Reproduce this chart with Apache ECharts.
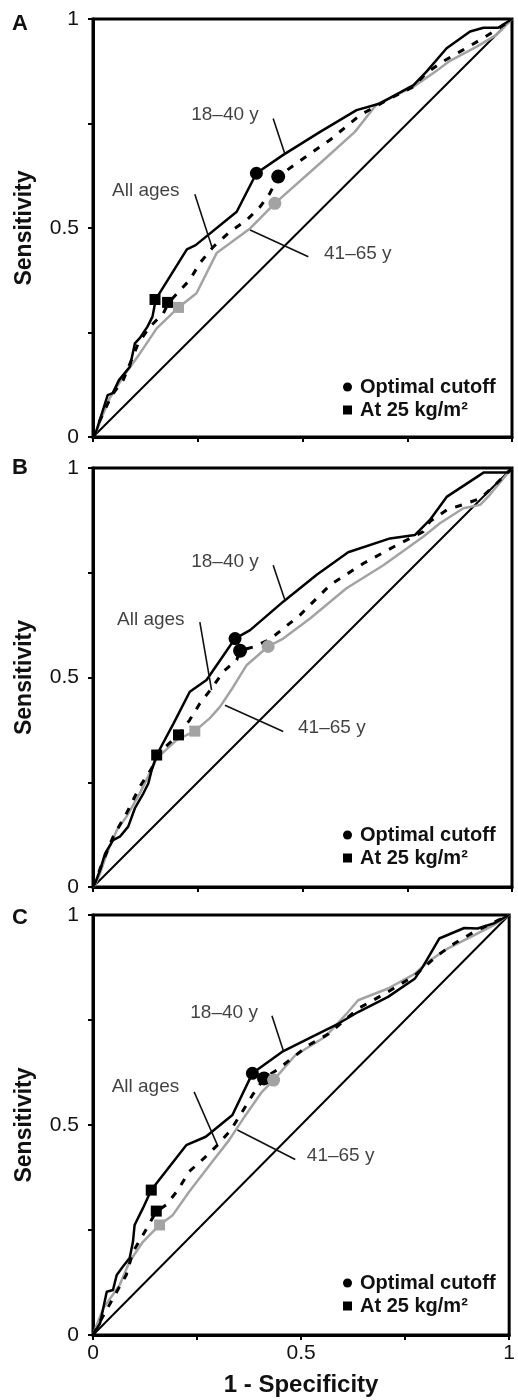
<!DOCTYPE html>
<html>
<head>
<meta charset="utf-8">
<script src="https://cdn.jsdelivr.net/npm/echarts@6/dist/echarts.min.js"></script>
<style>
html,body{margin:0;padding:0;background:#fff;}
#chart{width:518px;height:1400px;}
</style>
</head>
<body>
<div id="chart"></div>
<script>
// ---------- data (1 - specificity, sensitivity) ----------
const panelLetters = ['A', 'B', 'C'];
const tickValues = [0, 0.5, 1];
const annotationTexts = ['18–40 y', 'All ages', '41–65 y'];
const legendNames = ['Optimal cutoff', 'At 25 kg/m²'];

const young_A = [[0,0],[0.005,0.005],[0.035,0.10],[0.047,0.105],[0.062,0.136],[0.088,0.168],[0.10,0.224],[0.112,0.237],[0.130,0.264],[0.142,0.288],[0.150,0.330],[0.224,0.449],[0.245,0.459],[0.343,0.539],[0.39,0.631],[0.454,0.675],[0.542,0.730],[0.629,0.782],[0.685,0.798],[0.765,0.842],[0.796,0.874],[0.844,0.930],[0.90,0.970],[0.932,0.979],[0.967,0.979],[1,1]];
const old_A = [[0,0],[0.005,0.005],[0.025,0.057],[0.04,0.093],[0.072,0.144],[0.112,0.20],[0.152,0.26],[0.204,0.310],[0.247,0.344],[0.295,0.44],[0.375,0.499],[0.434,0.559],[0.542,0.655],[0.625,0.730],[0.677,0.796],[0.765,0.838],[0.82,0.876],[0.852,0.900],[0.916,0.934],[0.963,0.962],[1,1]];
const all_A = [[0,0],[0.017,0.041],[0.045,0.10],[0.072,0.136],[0.108,0.224],[0.136,0.264],[0.168,0.296],[0.18,0.321],[0.231,0.376],[0.255,0.416],[0.287,0.455],[0.327,0.491],[0.367,0.519],[0.399,0.551],[0.422,0.583],[0.442,0.623],[0.486,0.655],[0.566,0.711],[0.637,0.770],[0.709,0.81],[0.765,0.838],[0.796,0.871],[0.836,0.899],[0.876,0.922],[0.924,0.95],[0.963,0.974],[1,1]];
const optimal_A = [[0.39,0.631],[0.442,0.623],[0.434,0.559]];   // 18–40, all ages, 41–65
const bmi25_A = [[0.148,0.329],[0.178,0.322],[0.204,0.310]];

const young_B = [[0,0],[0.005,0.009],[0.017,0.041],[0.029,0.08],[0.048,0.112],[0.064,0.12],[0.084,0.144],[0.10,0.188],[0.12,0.223],[0.132,0.247],[0.14,0.279],[0.152,0.315],[0.192,0.39],[0.231,0.466],[0.271,0.494],[0.339,0.593],[0.375,0.613],[0.454,0.681],[0.534,0.745],[0.609,0.799],[0.709,0.832],[0.768,0.840],[0.804,0.876],[0.844,0.931],[0.932,0.989],[0.991,0.989],[1,1]];
const old_B = [[0,0],[0.005,0.005],[0.017,0.033],[0.033,0.08],[0.057,0.136],[0.08,0.168],[0.112,0.224],[0.143,0.287],[0.152,0.307],[0.2,0.351],[0.243,0.372],[0.279,0.403],[0.303,0.430],[0.335,0.478],[0.367,0.53],[0.418,0.574],[0.454,0.593],[0.518,0.641],[0.605,0.713],[0.693,0.768],[0.788,0.836],[0.828,0.868],[0.884,0.904],[0.924,0.912],[0.947,0.936],[1,1]];
const all_B = [[0,0],[0.025,0.064],[0.048,0.12],[0.08,0.176],[0.112,0.24],[0.14,0.283],[0.152,0.315],[0.204,0.363],[0.231,0.399],[0.255,0.438],[0.283,0.474],[0.311,0.514],[0.343,0.542],[0.351,0.564],[0.383,0.573],[0.422,0.591],[0.494,0.649],[0.566,0.721],[0.645,0.772],[0.725,0.816],[0.788,0.848],[0.804,0.872],[0.844,0.90],[0.884,0.913],[0.924,0.927],[0.963,0.963],[1,1]];
const optimal_B = [[0.339,0.593],[0.351,0.564],[0.418,0.574]];
const bmi25_B = [[0.152,0.315],[0.204,0.363],[0.243,0.372]];

const young_C = [[0,0],[0.005,0.008],[0.017,0.028],[0.033,0.103],[0.048,0.107],[0.057,0.143],[0.072,0.163],[0.088,0.183],[0.096,0.222],[0.10,0.262],[0.12,0.302],[0.14,0.345],[0.224,0.452],[0.271,0.472],[0.335,0.524],[0.383,0.623],[0.454,0.674],[0.526,0.710],[0.589,0.741],[0.637,0.769],[0.709,0.805],[0.773,0.848],[0.792,0.876],[0.832,0.944],[0.892,0.969],[0.924,0.968],[0.963,0.98],[1,1]];
const old_C = [[0,0],[0.009,0.024],[0.025,0.064],[0.064,0.119],[0.088,0.175],[0.12,0.222],[0.16,0.262],[0.192,0.286],[0.231,0.341],[0.287,0.413],[0.327,0.464],[0.367,0.524],[0.406,0.579],[0.434,0.607],[0.486,0.666],[0.558,0.710],[0.613,0.769],[0.637,0.797],[0.709,0.825],[0.773,0.860],[0.804,0.888],[0.852,0.92],[0.916,0.952],[0.963,0.976],[1,1]];
const all_C = [[0,0],[0.017,0.032],[0.057,0.103],[0.08,0.143],[0.096,0.198],[0.12,0.238],[0.152,0.294],[0.176,0.31],[0.204,0.345],[0.231,0.389],[0.267,0.421],[0.299,0.452],[0.331,0.488],[0.359,0.532],[0.383,0.571],[0.411,0.611],[0.446,0.634],[0.518,0.69],[0.566,0.717],[0.637,0.777],[0.709,0.817],[0.773,0.856],[0.796,0.876],[0.828,0.904],[0.868,0.932],[0.916,0.96],[1,1]];
const optimal_C = [[0.383,0.623],[0.411,0.611],[0.434,0.607]];
const bmi25_C = [[0.14,0.345],[0.152,0.295],[0.16,0.262]];

const chanceLine = [[0,0],[1,1]];

// annotation anchors (data coords): text centres, then leader lines [from, to]
const labelPos_A = [[0.315,0.770],[0.126,0.590],[0.632,0.439]];
const leaders_A = [[[0.430,0.762],[0.458,0.677]],[[0.243,0.581],[0.285,0.451]],[[0.375,0.495],[0.514,0.431]]];
const labelPos_B = [[0.315,0.777],[0.138,0.638],[0.570,0.381]];
const leaders_B = [[[0.430,0.768],[0.458,0.685]],[[0.255,0.632],[0.283,0.470]],[[0.315,0.434],[0.454,0.371]]];
const labelPos_C = [[0.315,0.768],[0.126,0.590],[0.595,0.427]];
const leaders_C = [[[0.430,0.760],[0.458,0.675]],[[0.243,0.579],[0.299,0.452]],[[0.347,0.488],[0.486,0.418]]];

// ---------- build ----------
const panels = [
  {young: young_A, old: old_A, all: all_A, opt: optimal_A, bmi: bmi25_A, lab: labelPos_A, lead: leaders_A},
  {young: young_B, old: old_B, all: all_B, opt: optimal_B, bmi: bmi25_B, lab: labelPos_B, lead: leaders_B},
  {young: young_C, old: old_C, all: all_C, opt: optimal_C, bmi: bmi25_C, lab: labelPos_C, lead: leaders_C}
];
const layout = [
  {top: 19, height: 418, letterY: 25, legendTop: 372},
  {top: 468, height: 419, letterY: 469, legendTop: 820},
  {top: 915, height: 420, letterY: 919, legendTop: 1268}
];
const FONT = 'Liberation Sans, Arial, Helvetica, sans-serif';
const BLACK = '#000';
const GRAY = '#a3a3a3';
const TXT = '#111';

const grids = [], xAxes = [], yAxes = [], series = [], legends = [], graphics = [];
const labelFmt = v => (tickValues.indexOf(Math.round(v * 100) / 100) >= 0 ? String(v) : '');

panels.forEach((p, i) => {
  const L = layout[i];
  grids.push({left: 93, top: L.top, width: 419, height: L.height, show: true,
              borderColor: BLACK, borderWidth: 3, backgroundColor: 'transparent'});
  xAxes.push({type: 'value', gridIndex: i, min: 0, max: 1, interval: 0.25,
    axisLine: {show: true, onZero: false, lineStyle: {color: BLACK, width: 3}},
    axisTick: {show: true, length: 5, lineStyle: {color: BLACK, width: 2}},
    splitLine: {show: false},
    axisLabel: {show: i === 2, formatter: labelFmt, fontSize: 21, color: TXT, fontFamily: FONT, margin: 8},
    name: i === 2 ? '1 - Specificity' : '', nameLocation: 'middle', nameGap: 38,
    nameTextStyle: {fontSize: 24, fontWeight: 'bold', color: TXT, fontFamily: FONT}
  });
  yAxes.push({type: 'value', gridIndex: i, min: 0, max: 1, interval: 0.25,
    axisLine: {show: true, onZero: false, lineStyle: {color: BLACK, width: 3}},
    axisTick: {show: true, length: 5, lineStyle: {color: BLACK, width: 2}},
    splitLine: {show: false},
    axisLabel: {show: true, formatter: labelFmt, fontSize: 21, color: TXT, fontFamily: FONT, margin: 14},
    name: 'Sensitivity', nameLocation: 'middle', nameGap: 57,
    nameTextStyle: {fontSize: 23, fontWeight: 'bold', color: TXT, fontFamily: FONT}
  });

  const base = {xAxisIndex: i, yAxisIndex: i, silent: true, animation: false};
  series.push(Object.assign({type: 'line', data: chanceLine, symbol: 'none',
    lineStyle: {color: BLACK, width: 2}, z: 2}, base));
  series.push(Object.assign({type: 'line', name: '41–65 y', data: p.old, symbol: 'none',
    lineStyle: {color: GRAY, width: 2.5}, z: 3}, base));
  series.push(Object.assign({type: 'line', name: '18–40 y', data: p.young, symbol: 'none',
    lineStyle: {color: BLACK, width: 2.5}, z: 4}, base));
  series.push(Object.assign({type: 'line', name: 'All ages', data: p.all, symbol: 'none',
    lineStyle: {color: BLACK, width: 3, type: [7, 9]}, z: 5}, base));

  // leader lines
  p.lead.forEach(seg => {
    series.push(Object.assign({type: 'line', data: seg, symbol: 'none',
      lineStyle: {color: '#111', width: 1.6}, z: 6}, base));
  });
  // annotation texts
  series.push(Object.assign({type: 'scatter', symbolSize: 0,
    data: p.lab.map((c, k) => ({value: c, name: annotationTexts[k]})),
    label: {show: true, position: 'inside', formatter: '{b}', fontSize: 19, color: TXT, fontFamily: FONT},
    z: 7}, base));

  // markers
  const colors = [BLACK, BLACK, GRAY];
  const circleSizes = [13, 14, 13];
  series.push(Object.assign({type: 'scatter', name: legendNames[0], symbol: 'circle',
    itemStyle: {color: BLACK, opacity: 1},
    data: p.opt.map((c, k) => ({value: c, symbolSize: circleSizes[k], itemStyle: {color: colors[k], opacity: 1}})),
    z: 8}, base));
  series.push(Object.assign({type: 'scatter', name: legendNames[1], symbol: 'rect',
    itemStyle: {color: BLACK, opacity: 1}, symbolSize: 11,
    data: p.bmi.map((c, k) => ({value: c, itemStyle: {color: colors[k], opacity: 1}})),
    z: 8}, base));

  legends.push({show: true, orient: 'vertical', left: 338, top: L.legendTop,
    selectedMode: false, itemWidth: 9, itemHeight: 9, itemGap: 3,
    data: [{name: legendNames[0], icon: 'circle'}, {name: legendNames[1], icon: 'rect'}],
    textStyle: {fontSize: 20, fontWeight: 'bold', color: TXT, fontFamily: FONT, lineHeight: 20, padding: [0, 0, 0, 3]}
  });

  graphics.push({type: 'text', left: 12, top: L.letterY - 12,
    style: {text: panelLetters[i], font: 'bold 22px ' + FONT, fill: TXT}});
});

const chart = echarts.init(document.getElementById('chart'), null, {renderer: 'canvas'});
chart.setOption({
  animation: false,
  backgroundColor: '#fff',
  grid: grids, xAxis: xAxes, yAxis: yAxes, series: series,
  legend: legends, graphic: graphics
});
</script>
</body>
</html>
